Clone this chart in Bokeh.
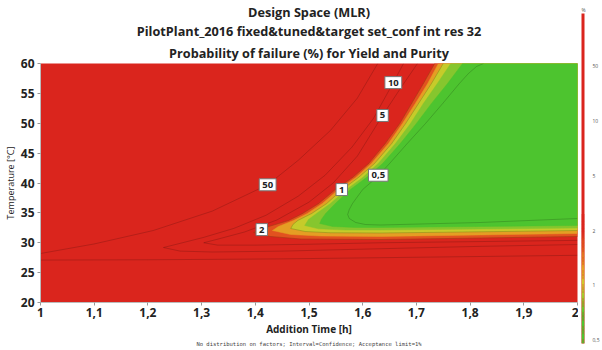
from bokeh.plotting import figure
from bokeh.models import Range1d, FixedTicker, Title, Label
from bokeh.layouts import row
from bokeh.embed import file_html
from bokeh.resources import INLINE

# ---------------- data ----------------
X_MIN, X_MAX = 1.0, 2.0      # Addition Time [h]
T_MIN, T_MAX = 20.0, 60.0    # Temperature [°C]

x_ticks = [1.0, 1.1, 1.2, 1.3, 1.4, 1.5, 1.6, 1.7, 1.8, 1.9, 2.0]
x_tick_labels = ["1", "1,1", "1,2", "1,3", "1,4", "1,5", "1,6", "1,7", "1,8", "1,9", "2"]
y_ticks = [20, 25, 30, 35, 40, 45, 50, 55, 60]

# colour-band boundaries (probability of failure %), each from the right edge
# along the lower branch, round the tip, and up to the top edge
c2_x = [2.000, 1.819, 1.633, 1.484, 1.428, 1.397, 1.425, 1.462, 1.488, 1.518, 1.549, 1.581, 1.611, 1.642, 1.669, 1.691, 1.713, 1.734]
c2_t = [31.05, 30.79, 30.54, 30.63, 31.05, 31.72, 32.72, 33.72, 34.90, 36.57, 38.91, 40.92, 43.26, 46.61, 49.96, 53.31, 56.65, 60.00]

c15_x = [2.000, 1.819, 1.633, 1.521, 1.466, 1.432, 1.443, 1.471, 1.497, 1.525, 1.555, 1.587, 1.616, 1.648, 1.674, 1.698, 1.721, 1.741]
c15_t = [31.55, 31.30, 31.05, 31.13, 31.38, 32.05, 32.72, 33.72, 34.90, 36.57, 38.91, 40.92, 43.26, 46.61, 49.96, 53.31, 56.65, 60.00]

c1_x = [2.000, 1.819, 1.633, 1.540, 1.493, 1.466, 1.470, 1.479, 1.505, 1.533, 1.562, 1.592, 1.622, 1.654, 1.680, 1.704, 1.728, 1.750]
c1_t = [32.05, 31.83, 31.63, 31.67, 31.88, 32.38, 33.05, 33.72, 34.90, 36.57, 38.91, 40.92, 43.26, 46.61, 49.96, 53.31, 56.65, 60.00]

c075_x = [2.000, 1.819, 1.633, 1.568, 1.518, 1.492, 1.499, 1.514, 1.540, 1.570, 1.600, 1.629, 1.661, 1.689, 1.713, 1.739, 1.764]
c075_t = [32.47, 32.30, 32.13, 32.13, 32.33, 32.89, 33.89, 34.90, 36.57, 38.91, 40.92, 43.26, 46.61, 49.96, 53.31, 56.65, 60.00]

c06_x = [2.000, 1.819, 1.633, 1.587, 1.544, 1.520, 1.523, 1.531, 1.549, 1.577, 1.607, 1.637, 1.670, 1.700, 1.728, 1.758, 1.786]
c06_t = [32.89, 32.72, 32.55, 32.55, 32.72, 33.22, 33.89, 34.90, 36.57, 38.91, 40.92, 43.26, 46.61, 49.96, 53.31, 56.65, 60.00]

# contour lines
c05_x = [2.000, 1.819, 1.633, 1.605, 1.587, 1.575, 1.572, 1.575, 1.581, 1.600, 1.626, 1.650, 1.683, 1.717, 1.749, 1.780, 1.797, 1.812, 1.825]
c05_t = [34.06, 33.39, 32.97, 33.05, 33.39, 34.06, 34.73, 35.56, 36.57, 38.91, 40.92, 43.26, 46.61, 49.96, 53.31, 56.65, 58.33, 59.50, 60.00]

c5_x = [2.000, 1.820, 1.633, 1.500, 1.400, 1.330, 1.304, 1.330, 1.380, 1.440, 1.500, 1.545, 1.590, 1.637, 1.670, 1.702]
c5_t = [30.40, 30.20, 30.00, 29.75, 29.60, 29.60, 30.00, 30.60, 31.80, 33.80, 36.80, 40.00, 44.50, 51.30, 55.80, 60.00]

c10_x = [2.000, 1.820, 1.633, 1.450, 1.320, 1.260, 1.229, 1.260, 1.304, 1.360, 1.420, 1.480, 1.530, 1.580, 1.620, 1.657, 1.676]
c10_t = [29.70, 29.40, 29.00, 28.60, 28.45, 28.60, 29.20, 29.90, 30.90, 32.40, 34.60, 37.80, 41.30, 46.00, 50.80, 56.80, 60.00]

c50_low_x = [1.000, 1.200, 1.450, 1.633, 1.820, 2.000]
c50_low_t = [27.10, 27.15, 27.30, 27.50, 27.70, 27.90]
c50_up_x = [1.000, 1.100, 1.210, 1.320, 1.423, 1.480, 1.540, 1.590, 1.628]
c50_up_t = [28.20, 29.80, 32.05, 35.30, 39.70, 43.80, 48.80, 54.20, 60.00]

# contour labels
lab_text = ["10", "5", "50", "1", "0,5", "2"]
lab_x = [1.657, 1.637, 1.423, 1.561, 1.629, 1.412]
lab_t = [56.8, 51.3, 39.7, 38.9, 41.3, 32.2]

# colour bar: evenly spaced levels
cb_levels = ["0,5", "1", "2", "5", "10", "50"]

# ---------------- styling ----------------
RED = "#DA251D"
band_colors = ["#E2521F", "#E59E24", "#C6CB2A", "#86C62E", "#4DC42F"]
FONT = "Open Sans"

p = figure(width=578, height=350, x_range=Range1d(X_MIN, X_MAX), y_range=Range1d(T_MIN, T_MAX),
           toolbar_location=None, output_backend="svg", title=None,
           min_border_left=40, min_border_right=1, min_border_top=63, min_border_bottom=48)
p.background_fill_color = RED
p.border_fill_color = "white"
p.outline_line_color = None
p.grid.visible = False
p.frame_align = False

bx = [c2_x, c15_x, c1_x, c075_x, c06_x]
bt = [c2_t, c15_t, c1_t, c075_t, c06_t]
p.patches(xs=[xx + [X_MAX] for xx in bx], ys=[tt + [T_MAX] for tt in bt],
          fill_color=band_colors, line_color=band_colors, line_width=0.5)

p.multi_line(xs=[c50_low_x, c50_up_x, c10_x, c5_x, c2_x, c1_x, c05_x],
             ys=[c50_low_t, c50_up_t, c10_t, c5_t, c2_t, c1_t, c05_t],
             line_color="black", line_alpha=0.17, line_width=1)

for tx, lx, lt in zip(lab_text, lab_x, lab_t):
    p.add_layout(Label(x=lx, y=lt, text=tx, text_align="center", text_baseline="middle",
                       text_font=FONT, text_font_size="9.5px", text_font_style="bold", text_color="#222",
                       background_fill_color="white", border_line_color="#777", border_line_width=1,
                       padding=3))

p.xaxis.ticker = FixedTicker(ticks=x_ticks)
p.xaxis.major_label_overrides = dict(zip(x_ticks, x_tick_labels))
p.yaxis.ticker = FixedTicker(ticks=y_ticks)
for ax in (p.xaxis[0], p.yaxis[0]):
    ax.major_label_text_font = FONT
    ax.major_label_text_font_size = "12px"
    ax.major_label_text_font_style = "bold"
    ax.major_label_text_color = "#222"
    ax.axis_line_color = "#bbbbbb"
    ax.major_tick_line_color = "#999999"
    ax.major_tick_out = 3
    ax.major_tick_in = 0
    ax.minor_tick_line_color = None
    ax.axis_label_text_font = FONT
    ax.axis_label_text_color = "#222"
p.xaxis.major_label_standoff = 2
p.yaxis.major_label_standoff = 3

p.xaxis.axis_label = "Addition Time [h]"
p.xaxis.axis_label_text_font_size = "10px"
p.xaxis.axis_label_text_font_style = "bold"
p.xaxis.axis_label_standoff = 2
p.yaxis.axis_label = "Temperature [°C]"
p.yaxis.axis_label_text_font_size = "9px"
p.yaxis.axis_label_text_font_style = "normal"
p.yaxis.axis_label_standoff = 1

p.add_layout(Title(text="No distribution on factors; Interval=Confidence; Acceptance limit=1%",
                   align="center", text_font="DejaVu Sans Mono", text_font_size="5.5px",
                   text_font_style="normal", text_color="#444", standoff=0, offset=-14), "below")

titles = ["Probability of failure (%) for Yield and Purity",
          "PilotPlant_2016 fixed&tuned&target set_conf int res 32",
          "Design Space (MLR)"]
title_standoffs = [4, -1.5, -1.5]
for t, so in zip(titles, title_standoffs):
    p.add_layout(Title(text=t, align="center", text_font=FONT, text_font_size="12.7px",
                       text_font_style="bold", text_color="#222", standoff=so,
                       offset=-12), "above")

# ---------------- colour bar ----------------
cb = figure(width=24, height=350, x_range=Range1d(0, 1), y_range=Range1d(-0.06, 5.96),
            toolbar_location=None, output_backend="svg", title=None, y_axis_location="right",
            min_border_left=3, min_border_right=12, min_border_top=13, min_border_bottom=7)
cb.outline_line_color = None
cb.grid.visible = False
cb.xaxis.visible = False
cb.background_fill_color = RED
cb.frame_align = False

stops = [(0.0, (77, 196, 46)), (0.45, (77, 196, 46)), (0.75, (150, 200, 42)), (1.0, (205, 205, 42)),
         (1.3, (228, 165, 34)), (1.65, (226, 100, 30)), (2.0, (218, 37, 29))]

def grad(v):
    if v <= stops[0][0]:
        c = stops[0][1]
    elif v >= stops[-1][0]:
        c = stops[-1][1]
    else:
        for (a, ca), (b, cbb) in zip(stops[:-1], stops[1:]):
            if a <= v <= b:
                f = (v - a) / (b - a)
                c = tuple(int(round(ca[k] + f * (cbb[k] - ca[k]))) for k in range(3))
                break
    return "#%02x%02x%02x" % c

n = 120
lo, hi = -0.06, 2.3
step = (hi - lo) / n
bots = [lo + i * step for i in range(n)]
tops = [b + step * 1.05 for b in bots]
cols = [grad(b + step / 2) for b in bots]
cb.quad(left=0, right=1, bottom=bots, top=tops, fill_color=cols, line_color=None)

cb.yaxis.ticker = FixedTicker(ticks=list(range(len(cb_levels))))
cb.yaxis.major_label_overrides = {i: s for i, s in enumerate(cb_levels)}
cb.yaxis.major_label_text_font = FONT
cb.yaxis.major_label_text_font_size = "5px"
cb.yaxis.major_label_text_color = "#555"
cb.yaxis.axis_line_color = None
cb.yaxis.major_tick_line_color = None
cb.yaxis.minor_tick_line_color = None
cb.yaxis.major_label_standoff = 2
cb.add_layout(Title(text="%", align="left", text_font=FONT, text_font_size="5px",
                    text_font_style="normal", text_color="#555", standoff=2), "above")

layout = row(p, cb)
open("out.html", "w").write(file_html(layout, INLINE))
